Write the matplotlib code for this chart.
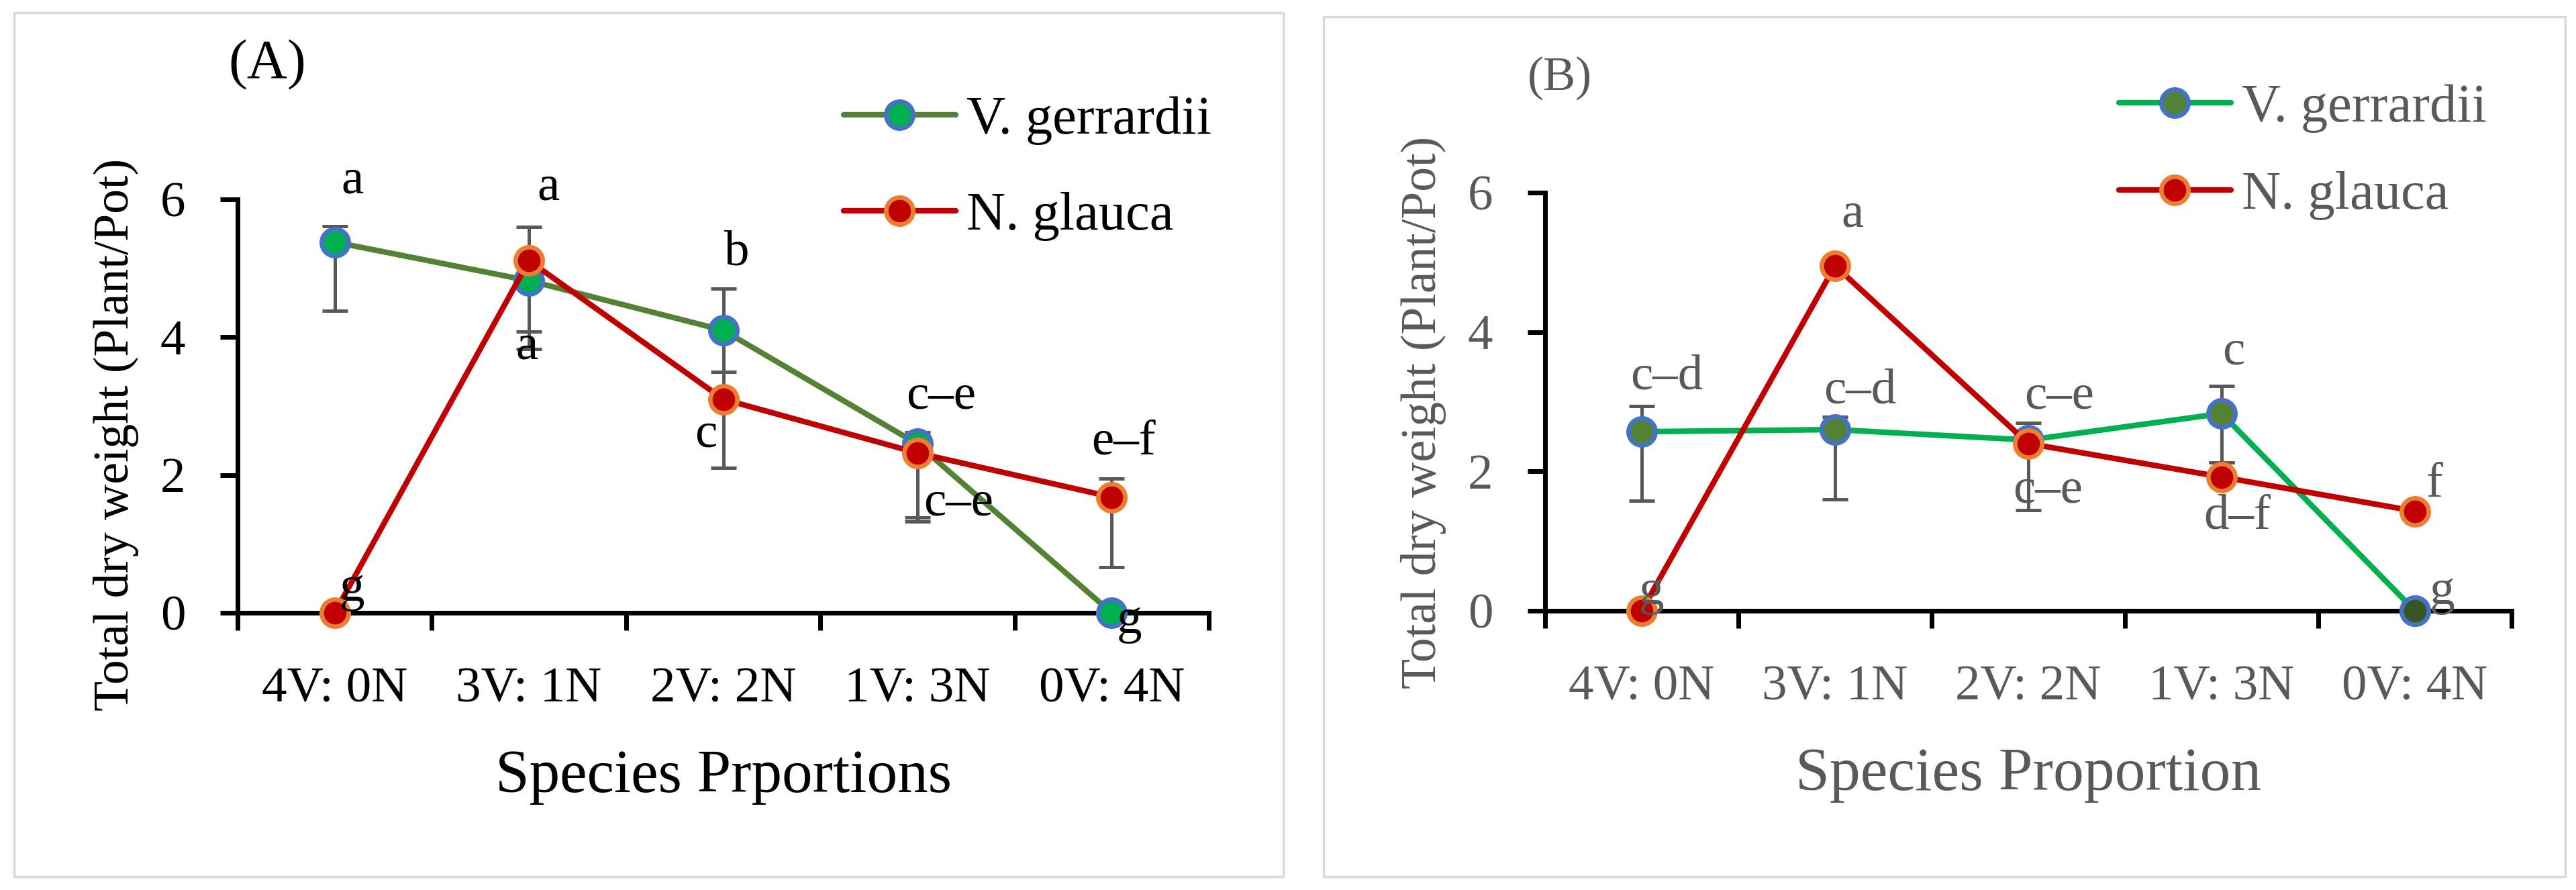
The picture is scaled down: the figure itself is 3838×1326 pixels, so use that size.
import matplotlib
matplotlib.use("Agg")
import matplotlib.pyplot as plt
import numpy as np
from matplotlib.patches import Rectangle

plt.rcParams["font.family"] = ["Liberation Serif", "DejaVu Serif"]

# ---------------- data ----------------
categories = ["4V: 0N", "3V: 1N", "2V: 2N", "1V: 3N", "0V: 4N"]

a_vg = [5.38, 4.82, 4.10, 2.45, 0.0]
a_vg_lo = [1.00, 0.74, 0.60, 1.07, 0.0]
a_vg_hi = [0.23, 0.78, 0.60, 0.17, 0.0]
a_ng = [0.0, 5.11, 3.10, 2.32, 1.68]
a_ng_lo = [0.0, 1.28, 1.00, 1.00, 1.02]
a_ng_hi = [0.0, 0.0, 1.00, 0.0, 0.27]

b_vg = [2.57, 2.60, 2.45, 2.83, 0.0]
b_vg_lo = [0.99, 1.00, 0.0, 0.70, 0.0]
b_vg_hi = [0.37, 0.18, 0.25, 0.40, 0.0]
b_ng = [0.0, 4.95, 2.40, 1.92, 1.43]
b_ng_lo = [0.0, 0.0, 0.96, 0.0, 0.0]
b_ng_hi = [0.0, 0.10, 0.0, 0.21, 0.0]

a_letters = ["a", "a", "a", "b", "c", "c\u2013e", "c\u2013e", "e\u2013f", "g", "g"]
a_letter_cat = [0, 1, 1, 2, 2, 3, 3, 4, 0, 4]
b_letters = ["c\u2013d", "c\u2013d", "c\u2013e", "c\u2013e", "c", "d\u2013f", "a", "f", "g", "g"]
b_letter_cat = [0, 1, 2, 2, 3, 3, 1, 4, 0, 4]

yticks = [0, 2, 4, 6]

# annotation placement (offsets in data units)
a_letter_dx = [0.09, 0.10, -0.01, 0.07, -0.09, 0.12, 0.21, 0.06, 0.09, 0.09]
a_letter_y = [6.27, 6.17, 3.86, 5.22, 2.58, 3.14, 1.59, 2.48, 0.35, -0.12]
b_letter_dx = [0.13, 0.13, 0.16, 0.10, 0.06, 0.08, 0.09, 0.10, 0.05, 0.14]
b_letter_y = [3.35, 3.15, 3.07, 1.73, 3.71, 1.35, 5.68, 1.81, 0.27, 0.27]

# ---------------- figure ----------------
W, H = 3838, 1326
DPI = 100
fig = plt.figure(figsize=(W / DPI, H / DPI), dpi=DPI)


def fx(px):
    return px / W


def fy(py):
    return 1 - py / H


# panel borders (pixel boxes: left, top, right, bottom)
for (x0, y0, x1, y1) in [(21, 19, 1912, 1306), (1972, 25, 3822, 1306)]:
    fig.add_artist(Rectangle((fx(x0), fy(y1)), (x1 - x0) / W, (y1 - y0) / H,
                             transform=fig.transFigure, fill=False, edgecolor="#D9D9D9", lw=2.5))

ERR = "#595959"
GREEN_DARK = "#548235"
GREEN = "#00B050"
BLUE = "#4472C4"
RED = "#C00000"
ORANGE = "#ED7D31"
FS = 54


def panel(box, vg, vg_lo, vg_hi, ng, ng_lo, ng_hi, vg_line, vg_face, txtcolor,
          letters, letter_cat, letter_dx, letter_y, xlabel, xlabel_fs, ylabel_cy,
          tag, tag_xy, tag_size, leg_xy, leg_spacing):
    l, t, r, b = box
    ax = fig.add_axes([fx(l), fy(b), (r - l) / W, (b - t) / H])
    x = np.arange(len(categories))
    ms, mew, lw = 29, 4.8, 6
    ax.errorbar(x, vg, yerr=[vg_lo, vg_hi], fmt="none", ecolor=ERR, elinewidth=3.6,
                capsize=14, capthick=3.6, zorder=2, clip_on=False)
    ax.errorbar(x, ng, yerr=[ng_lo, ng_hi], fmt="none", ecolor=ERR, elinewidth=3.6,
                capsize=14, capthick=3.6, zorder=2, clip_on=False)
    ax.plot(x, vg, color=vg_line, lw=lw, marker="o", ms=ms, mfc=vg_face, mec=BLUE, mew=mew,
            zorder=3, label="V. gerrardii", clip_on=False, solid_capstyle="round")
    ax.plot(x, ng, color=RED, lw=lw, marker="o", ms=ms, mfc=RED, mec=ORANGE, mew=mew,
            zorder=4, label="N. glauca", clip_on=False, solid_capstyle="round")

    ax.set_xlim(-0.5, len(categories) - 0.5)
    ax.set_ylim(0, 6)
    ax.set_yticks(yticks)
    ax.set_xticks(x)
    ax.set_xticklabels(categories)
    ax.set_xticks(np.arange(-0.5, len(categories)), minor=True)
    ax.tick_params(axis="x", which="major", length=0, pad=58, labelsize=FS, labelcolor=txtcolor)
    ax.tick_params(axis="x", which="minor", length=19, width=5, direction="out", color="black")
    ax.tick_params(axis="y", which="major", length=19, width=5, pad=37, labelsize=FS,
                   labelcolor=txtcolor)
    for s in ["top", "right"]:
        ax.spines[s].set_visible(False)
    for s in ["left", "bottom"]:
        ax.spines[s].set_linewidth(5)
        ax.spines[s].set_color("black")
    ax.set_xlabel(xlabel, fontsize=xlabel_fs, color=txtcolor, labelpad=40)
    ax.set_ylabel("Total dry weight (Plant/Pot)", fontsize=53, color=txtcolor, va="center")
    ax.yaxis.set_label_coords(-181 / (r - l), (b - ylabel_cy) / (b - t))

    for txt, c, dx, yy in zip(letters, letter_cat, letter_dx, letter_y):
        ax.text(c + dx, yy, txt, fontsize=FS, color=txtcolor, ha="center", va="center",
                clip_on=False, zorder=6)

    fig.text(fx(tag_xy[0]), fy(tag_xy[1]), tag, fontsize=tag_size, color=txtcolor,
             ha="left", va="center")

    leg = ax.legend(loc="upper left", bbox_to_anchor=(fx(leg_xy[0]), fy(leg_xy[1])),
                    bbox_transform=fig.transFigure, frameon=False, fontsize=58,
                    handlelength=2.07, handletextpad=0.2, labelspacing=leg_spacing,
                    borderaxespad=0, borderpad=0)
    for tx in leg.get_texts():
        tx.set_color(txtcolor)
    return ax


axA = panel((354, 297, 1801, 913),
            a_vg, a_vg_lo, a_vg_hi, a_ng, a_ng_lo, a_ng_hi, GREEN_DARK, GREEN, "black",
            a_letters, a_letter_cat, a_letter_dx, a_letter_y, "Species Prportions", 65.5, 647,
            "(A)", (340, 97), 60, (1257, 143), 0.86)

axB = panel((2302, 287, 3742, 910),
            b_vg, b_vg_lo, b_vg_hi, b_ng, b_ng_lo, b_ng_hi, GREEN, GREEN_DARK, "#595959",
            b_letters, b_letter_cat, b_letter_dx, b_letter_y, "Species Proportion", 66, 614,
            "(B)", (2276, 116), 52, (3157, 125), 0.70)
# the last V. gerrardii point in panel B has a darker fill
axB.plot([len(categories) - 1], [b_vg[-1]], ls="none", marker="o", ms=29, mfc="#375623",
         mec=BLUE, mew=4.8, zorder=5, clip_on=False)

fig.savefig("out.png", dpi=DPI)
